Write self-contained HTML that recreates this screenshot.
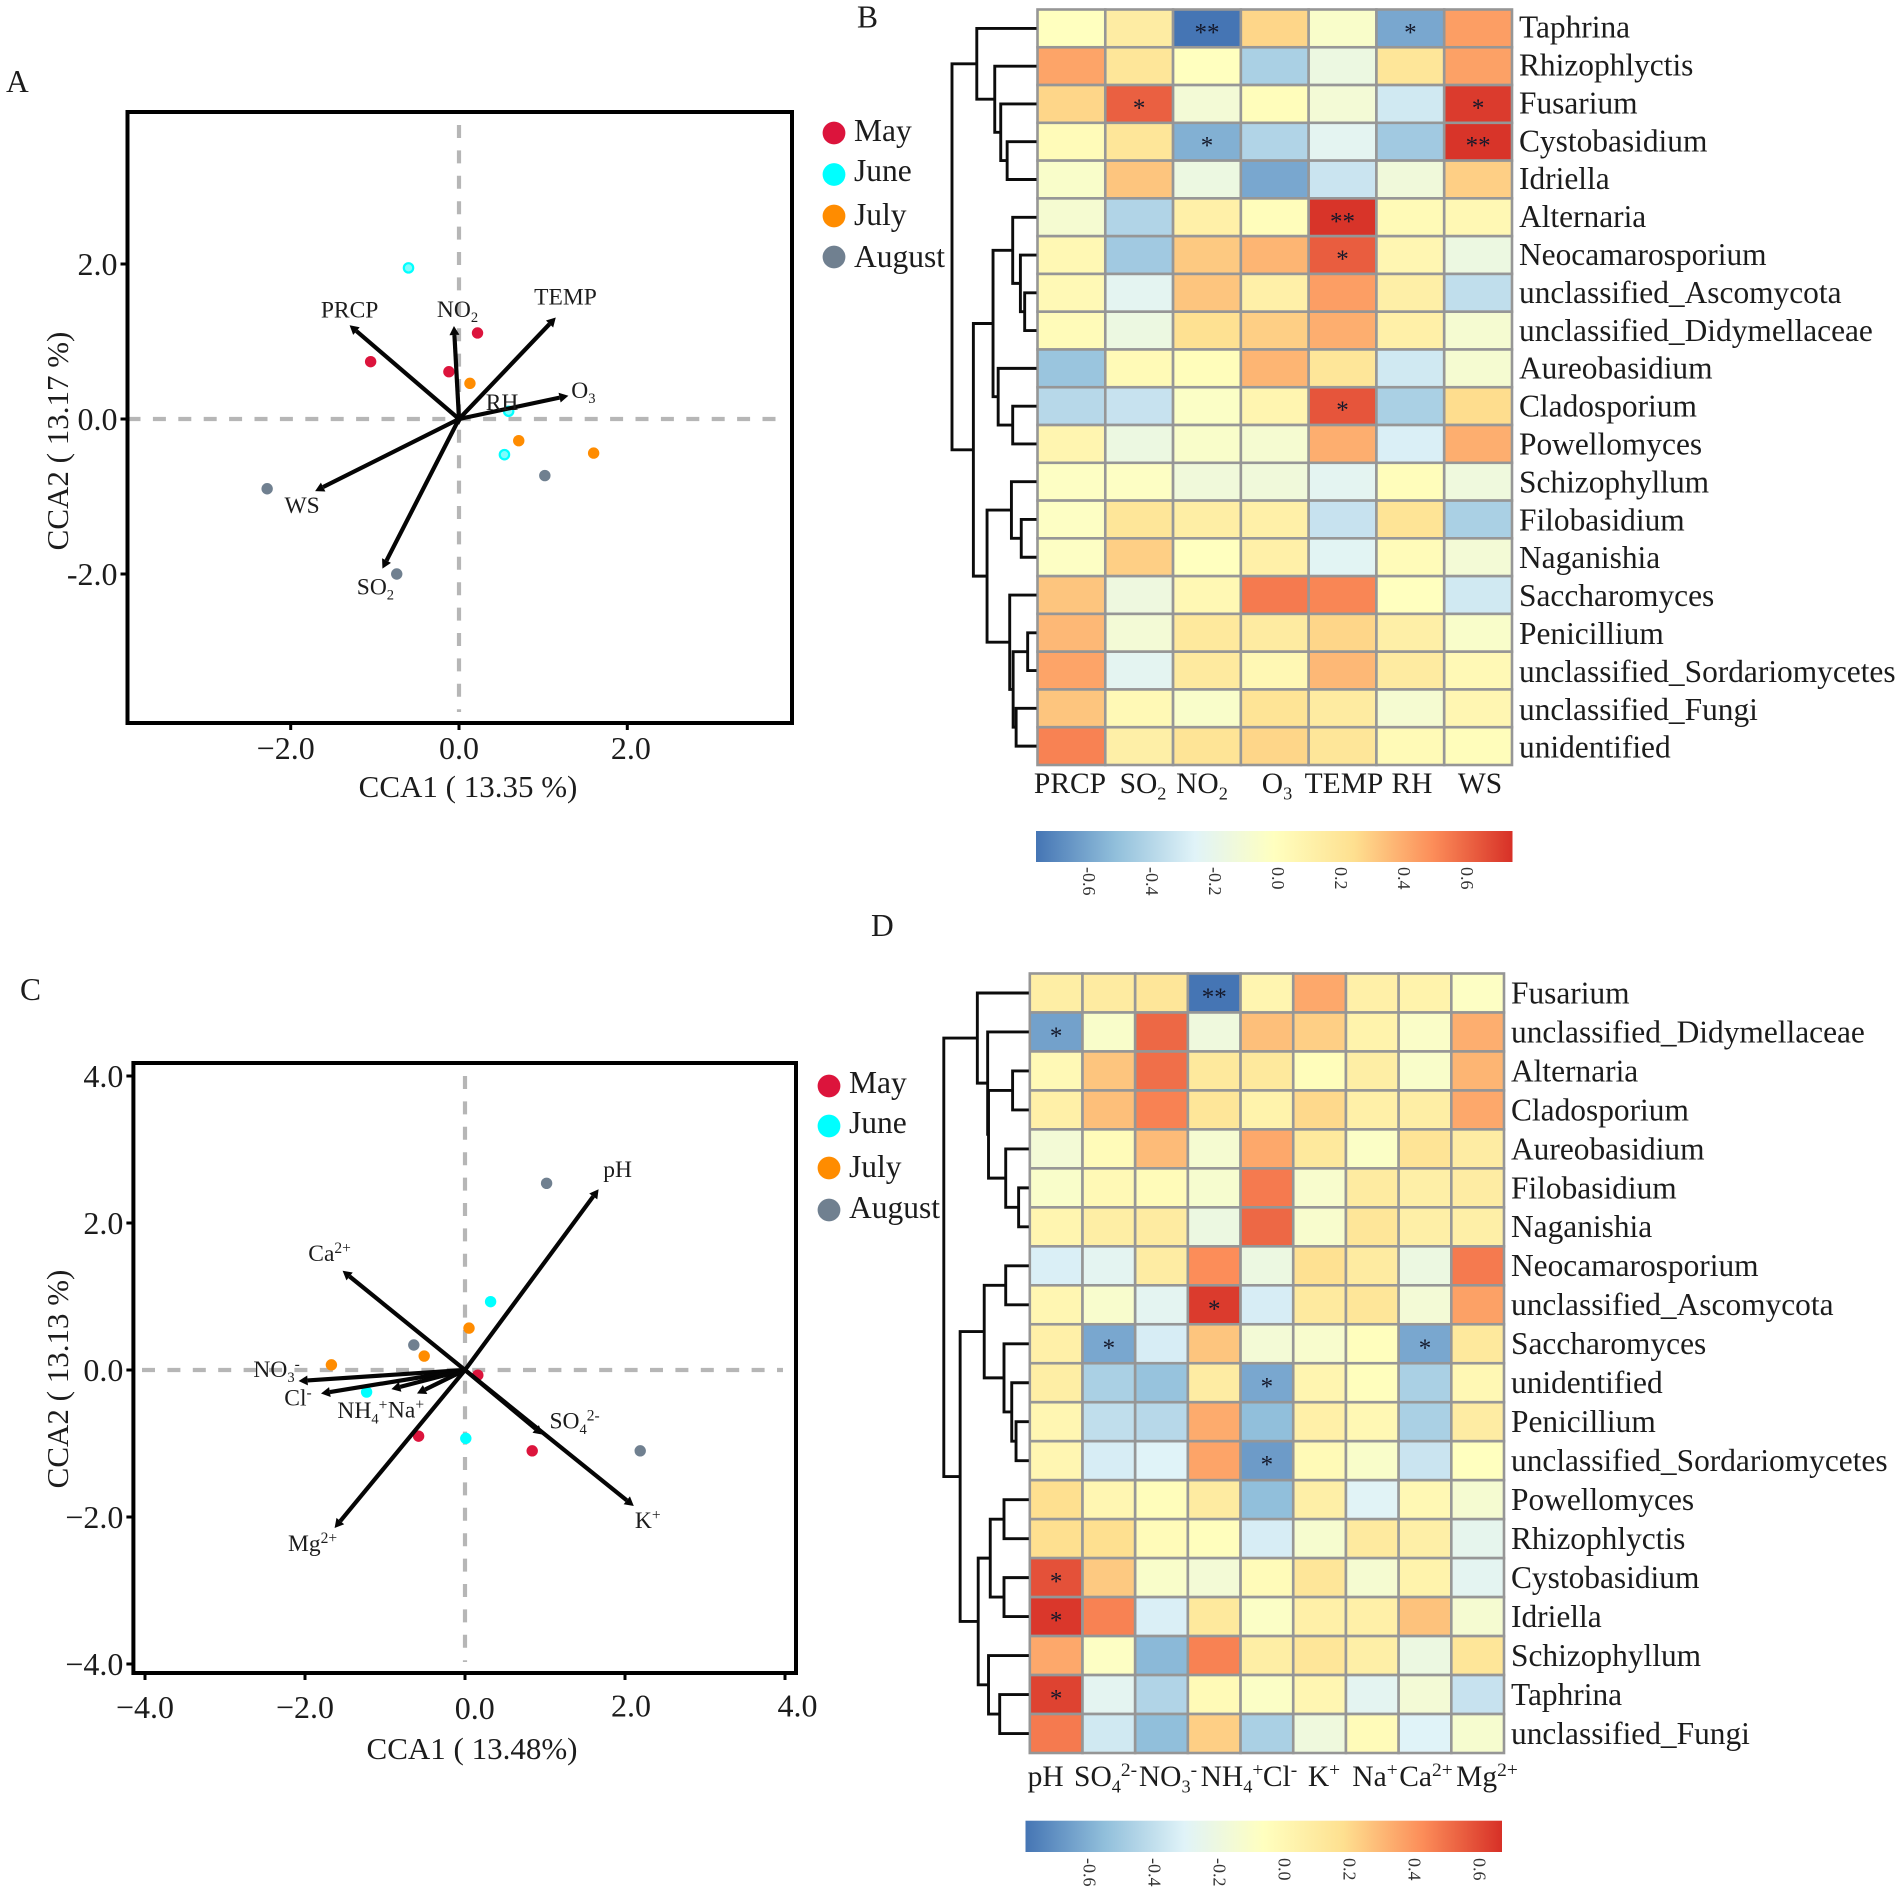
<!DOCTYPE html>
<html lang="en">
<head>
<meta charset="utf-8">
<title>CCA ordination and correlation heatmaps</title>
<style>
html,body{margin:0;padding:0;background:#fff;}
svg{display:block;font-family:"Liberation Serif","Times New Roman",serif;}
</style>
</head>
<body>
<svg id="fig" xmlns="http://www.w3.org/2000/svg" width="1902" height="1893" viewBox="0 0 1902 1893">
<defs>
<linearGradient id="rdylbu" x1="0" x2="1" y1="0" y2="0">
<stop offset="0" stop-color="#4575B4"/>
<stop offset="0.16667" stop-color="#91BFDB"/>
<stop offset="0.33333" stop-color="#E0F3F8"/>
<stop offset="0.5" stop-color="#FFFFBF"/>
<stop offset="0.66667" stop-color="#FEE090"/>
<stop offset="0.83333" stop-color="#FC8D59"/>
<stop offset="1" stop-color="#D73027"/>
</linearGradient>
</defs>
</svg>
<script>
// ---------- Legend ----------
const months = ["May", "June", "July", "August"];

// ---------- Panel A data ----------
const aPointX = [[0.22, -1.05, -0.12], [-0.6, 0.59, 0.54], [0.13, 0.71, 1.6], [-2.28, 1.02, -0.74]];
const aPointY = [[1.11, 0.74, 0.61], [1.95, 0.1, -0.46], [0.46, -0.28, -0.44], [-0.9, -0.73, -2.0]];
const aArrowNames = ["PRCP", "NO{2}", "TEMP", "O{3}", "RH", "WS", "SO{2}"];
const aArrowX = [-1.3, -0.06, 1.15, 1.3, 0.06, -1.71, -0.91];
const aArrowY = [1.21, 1.2, 1.31, 0.3, 0.04, -0.93, -1.93];
const aXTicks = [-2, 0, 2];
const aXTickLabels = ["\u22122.0", "0.0", "2.0"];
const aYTicks = [2, 0, -2];
const aYTickLabels = ["2.0", "0.0", "-2.0"];

// ---------- Panel C data ----------
const cPointX = [[0.16, -0.58, 0.84], [0.32, -1.23, 0.01], [0.05, -0.51, -1.67], [1.02, -0.64, 2.19]];
const cPointY = [[-0.07, -0.9, -1.1], [0.93, -0.3, -0.93], [0.57, 0.19, 0.07], [2.54, 0.34, -1.1]];
const cArrowNames = ["pH", "Ca[2+]", "NO{3}[-]", "Cl[-]", "NH{4}[+]", "Na[+]", "SO{4}[2-]", "K[+]", "Mg[2+]"];
const cArrowX = [1.67, -1.53, -2.08, -1.8, -0.92, -0.6, 0.97, 2.11, -1.63];
const cArrowY = [2.46, 1.35, -0.15, -0.32, -0.26, -0.32, -0.88, -1.85, -2.15];
const cXTicks = [-4, -2, 0, 2, 4];
const cXTickLabels = ["\u22124.0", "\u22122.0", "0.0", "2.0", "4.0"];
const cYTicks = [4, 2, 0, -2, -4];
const cYTickLabels = ["4.0", "2.0", "0.0", "\u22122.0", "\u22124.0"];

// ---------- Panel B data ----------
const bRows = ["Taphrina", "Rhizophlyctis", "Fusarium", "Cystobasidium", "Idriella", "Alternaria", "Neocamarosporium", "unclassified_Ascomycota", "unclassified_Didymellaceae", "Aureobasidium", "Cladosporium", "Powellomyces", "Schizophyllum", "Filobasidium", "Naganishia", "Saccharomyces", "Penicillium", "unclassified_Sordariomycetes", "unclassified_Fungi", "unidentified"];
const bCols = ["PRCP", "SO{2}", "NO{2}", "O{3}", "TEMP", "RH", "WS"];
const bValues = [
  [0.0, 0.15, -0.75, 0.28, -0.05, -0.58, 0.45],
  [0.43, 0.2, 0.0, -0.42, -0.15, 0.2, 0.44],
  [0.28, 0.62, -0.1, 0.02, -0.1, -0.3, 0.72],
  [0.03, 0.2, -0.55, -0.4, -0.22, -0.45, 0.74],
  [-0.05, 0.33, -0.15, -0.58, -0.32, -0.12, 0.3],
  [-0.08, -0.4, 0.12, 0.02, 0.74, 0.04, 0.06],
  [0.06, -0.45, 0.32, 0.38, 0.63, 0.07, -0.15],
  [0.05, -0.22, 0.33, 0.12, 0.45, 0.13, -0.35],
  [0.03, -0.15, 0.24, 0.3, 0.4, 0.12, -0.08],
  [-0.47, 0.04, 0.02, 0.38, 0.2, -0.3, -0.08],
  [-0.38, -0.33, -0.03, 0.08, 0.65, -0.42, 0.26],
  [0.08, -0.15, -0.05, -0.08, 0.4, -0.27, 0.4],
  [-0.02, -0.02, -0.12, -0.12, -0.22, 0.02, -0.13],
  [-0.02, 0.2, 0.14, 0.12, -0.33, 0.22, -0.42],
  [-0.02, 0.3, 0.0, 0.12, -0.23, 0.03, -0.1],
  [0.33, -0.14, 0.06, 0.55, 0.52, 0.0, -0.3],
  [0.37, -0.1, 0.18, 0.16, 0.28, 0.13, -0.05],
  [0.43, -0.22, 0.17, 0.06, 0.37, 0.16, 0.05],
  [0.33, 0.05, -0.05, 0.22, 0.16, -0.08, 0.07],
  [0.53, 0.13, 0.22, 0.28, 0.2, 0.04, 0.02]
];
const bStars = [[0, 2, "**"], [0, 5, "*"], [2, 1, "*"], [2, 6, "*"], [3, 2, "*"], [3, 6, "**"], [5, 4, "**"], [6, 4, "*"], [10, 4, "*"]];
const bTree = [1.0,
  [0.71, 0, [0.5, 1, [0.43, 2, [0.355, 3, 4]]]],
  [0.75,
    [0.52, [0.29, 5, [0.2, 6, [0.15, 7, 8]]], [0.46, 9, [0.29, 10, 11]]],
    [0.59, [0.305, 12, [0.19, 13, 14]], [0.325, 15, [0.285, [0.115, 16, 17], [0.25, 18, 19]]]]
  ]
];
const bBarTicks = [-0.6, -0.4, -0.2, 0, 0.2, 0.4, 0.6];

// ---------- Panel D data ----------
const dRows = ["Fusarium", "unclassified_Didymellaceae", "Alternaria", "Cladosporium", "Aureobasidium", "Filobasidium", "Naganishia", "Neocamarosporium", "unclassified_Ascomycota", "Saccharomyces", "unidentified", "Penicillium", "unclassified_Sordariomycetes", "Powellomyces", "Rhizophlyctis", "Cystobasidium", "Idriella", "Schizophyllum", "Taphrina", "unclassified_Fungi"];
const dCols = ["pH", "SO{4}[2-]", "NO{3}[-]", "NH{4}[+]", "Cl[-]", "K[+]", "Na[+]", "Ca[2+]", "Mg[2+]"];
const dValues = [
  [0.14, 0.16, 0.2, -0.75, 0.08, 0.42, 0.12, 0.1, -0.02],
  [-0.6, -0.05, 0.6, -0.13, 0.35, 0.3, 0.1, -0.04, 0.4],
  [0.05, 0.33, 0.58, 0.18, 0.18, 0.02, 0.14, -0.05, 0.38],
  [0.12, 0.35, 0.53, 0.2, 0.1, 0.27, 0.12, 0.14, 0.42],
  [-0.1, 0.03, 0.36, -0.08, 0.42, 0.18, -0.03, 0.22, 0.15],
  [-0.05, 0.05, 0.03, -0.07, 0.55, -0.06, 0.16, 0.13, 0.15],
  [0.08, 0.14, 0.16, -0.15, 0.6, -0.06, 0.2, 0.13, 0.13],
  [-0.27, -0.22, 0.15, 0.5, -0.15, 0.24, 0.16, -0.15, 0.55],
  [0.07, -0.06, -0.22, 0.72, -0.28, 0.17, 0.2, -0.1, 0.44],
  [0.12, -0.58, -0.28, 0.33, -0.1, -0.06, 0.01, -0.58, 0.18],
  [0.14, -0.42, -0.48, 0.15, -0.58, 0.08, 0.01, -0.42, 0.06],
  [0.07, -0.35, -0.38, 0.41, -0.5, 0.12, 0.06, -0.42, 0.15],
  [0.07, -0.28, -0.25, 0.43, -0.62, 0.04, -0.05, -0.32, 0.0],
  [0.25, 0.07, 0.02, 0.16, -0.5, 0.13, -0.24, 0.06, -0.08],
  [0.25, 0.25, 0.03, 0.01, -0.28, -0.07, 0.17, 0.13, -0.2],
  [0.66, 0.32, -0.05, -0.1, 0.03, 0.2, -0.08, 0.1, -0.22],
  [0.73, 0.53, -0.27, 0.18, -0.03, 0.12, 0.12, 0.34, -0.08],
  [0.42, -0.02, -0.52, 0.53, 0.14, 0.2, 0.13, -0.15, 0.2],
  [0.7, -0.22, -0.4, 0.04, -0.03, 0.07, -0.22, -0.1, -0.33],
  [0.55, -0.3, -0.5, 0.3, -0.42, -0.13, 0.03, -0.25, -0.07]
];
const dStars = [[0, 3, "**"], [1, 0, "*"], [8, 3, "*"], [9, 1, "*"], [9, 7, "*"], [10, 4, "*"], [12, 4, "*"], [15, 0, "*"], [16, 0, "*"], [18, 0, "*"]];
const dTree = [1.0,
  [0.61, 0, [0.49, 1, [0.48, [0.2, 2, 3], [0.28, 4, [0.13, 5, 6]]]]],
  [0.81,
    [0.53, [0.28, 7, 8], [0.3, 9, [0.21, 10, [0.16, 11, 12]]]],
    [0.6, [0.46, [0.3, 13, 14], [0.3, 15, 16]], [0.48, 17, [0.35, 18, 19]]]
  ]
];
const dBarTicks = [-0.6, -0.4, -0.2, 0, 0.2, 0.4, 0.6];

// ---------- Rendering ----------
const NS = "http://www.w3.org/2000/svg";
const fig = document.getElementById("fig");
const monthColors = ["#DC143C", "#00FFFF", "#FF8C00", "#708090"];
const ramp = [[69,117,180],[145,191,219],[224,243,248],[255,255,191],[254,224,144],[252,141,89],[215,48,39]];
const INK = "#1c1c1c";

function svgEl(tag, attrs, parent) {
  const el = document.createElementNS(NS, tag);
  for (const k in attrs) el.setAttribute(k, attrs[k]);
  (parent || fig).appendChild(el);
  return el;
}
function heatColor(v) {
  let t = (v + 0.75) / 1.5;
  t = Math.max(0, Math.min(1, t)) * 6;
  const i = Math.min(5, Math.floor(t));
  const f = t - i;
  const c = ramp[i].map((a, n) => Math.round(a + (ramp[i + 1][n] - a) * f));
  return "rgb(" + c.join(",") + ")";
}
// "SO{2}" = subscript, "K[+]" = superscript
function richText(el, str, size) {
  const parts = str.split(/(\{[^}]*\}|\[[^\]]*\])/).filter(s => s.length);
  let pending = 0;
  parts.forEach(p => {
    const ts = document.createElementNS(NS, "tspan");
    let dy = pending;
    pending = 0;
    if (p[0] === "{") {
      const d = size * 0.22;
      dy += d; pending = -d;
      ts.setAttribute("font-size", size * 0.62);
      p = p.slice(1, -1);
    } else if (p[0] === "[") {
      const d = -size * 0.34;
      dy += d; pending = -d;
      ts.setAttribute("font-size", size * 0.66);
      p = p.slice(1, -1);
    }
    if (dy) ts.setAttribute("dy", dy);
    ts.textContent = p;
    el.appendChild(ts);
  });
}
function label(str, x, y, size, anchor, parent) {
  const t = svgEl("text", {x: x, y: y, "font-size": size, "text-anchor": anchor || "start", fill: INK}, parent);
  richText(t, str, size);
  return t;
}
function slug(s) {
  return s.replace(/[{}\[\]+]/g, "").replace(/-/g, "").replace(/_/g, "-").toLowerCase();
}

function drawOrdination(cfg) {
  const g = svgEl("g", {});
  
  
  const sx = v => cfg.ox + v * cfg.ux;
  const sy = v => cfg.oy - v * cfg.uy;

  const h0 = svgEl("line", {x1: cfg.dashLeft, x2: cfg.dashRight, y1: cfg.oy, y2: cfg.oy, stroke: "#b6b6b6", "stroke-width": 4.2, "stroke-dasharray": "13 12.4", "stroke-dashoffset": cfg.dashOffset}, g);
  
  
  const v0 = svgEl("line", {x1: cfg.ox, x2: cfg.ox, y1: cfg.dashTop, y2: cfg.dashBottom, stroke: "#b6b6b6", "stroke-width": 4.2, "stroke-dasharray": "13 12.4"}, g);
  
  

  cfg.px.forEach((series, m) => {
    series.forEach((vx, i) => {
      const halo = cfg.juneHalo && m === 1;
      const c = svgEl("circle", {cx: sx(vx), cy: sy(cfg.py[m][i]), r: halo ? 4.7 : 5.7, fill: halo ? "#7ffcfc" : monthColors[m], stroke: halo ? "#00FFFF" : "none", "stroke-width": halo ? 2.2 : 0}, g);
      
      
    });
  });

  cfg.arrowNames.forEach((nm, i) => {
    const tx = sx(cfg.arrowX[i]), ty = sy(cfg.arrowY[i]);
    const ang = Math.atan2(ty - cfg.oy, tx - cfg.ox);
    const hl = 9, hw = 5;
    const bx = tx - Math.cos(ang) * hl, by = ty - Math.sin(ang) * hl;
    const ln = svgEl("line", {x1: cfg.ox, y1: cfg.oy, x2: bx, y2: by, stroke: "#050505", "stroke-width": 4.2}, g);
    
    
    const pts = [tx + "," + ty,
      (bx - Math.sin(ang) * hw) + "," + (by + Math.cos(ang) * hw),
      (bx + Math.sin(ang) * hw) + "," + (by - Math.cos(ang) * hw)].join(" ");
    const head = svgEl("polygon", {points: pts, fill: "#050505"}, g);
    
    
    const off = cfg.labelOffsets[i];
    const t = label(nm, tx + off[0], ty + off[1] + 8, 23.5, "middle", g);
    
    
  });

  const frame = svgEl("rect", {x: cfg.left, y: cfg.top, width: cfg.right - cfg.left, height: cfg.bottom - cfg.top, fill: "none", stroke: "#000", "stroke-width": 4}, g);
  
  

  cfg.xTicks.forEach((v, i) => {
    const tk = svgEl("line", {x1: sx(v), x2: sx(v), y1: cfg.bottom, y2: cfg.bottom + 7, stroke: "#000", "stroke-width": 3}, g);
    
    
    const t = label(cfg.xLabels[i], sx(v) + cfg.xLabelShift[i], cfg.xLabelY + cfg.xLabelLift[i], 32, "middle", g);
    
    
  });
  cfg.yTicks.forEach((v, i) => {
    const tk = svgEl("line", {x1: cfg.left - 7, x2: cfg.left, y1: sy(v), y2: sy(v), stroke: "#000", "stroke-width": 3}, g);
    
    
    const t = label(cfg.yLabels[i], cfg.left - 10, sy(v) + 11, 32, "end", g);
    
    
  });

  const xt = label(cfg.xTitle, cfg.xTitleX, cfg.xTitleY, 31, "middle", g);
  
  
  const yt = label(cfg.yTitle, 0, 0, 31, "middle", g);
  yt.setAttribute("transform", "translate(" + cfg.yTitleX + "," + cfg.yTitleY + ") rotate(-90)");
  
  

  months.forEach((m, i) => {
    const lg = svgEl("g", {}, g);
    
    
    svgEl("circle", {cx: cfg.legendX, cy: cfg.legendY[i], r: 11.4, fill: monthColors[i]}, lg);
    label(m, cfg.legendX + 20, cfg.legendBase[i], 31.5, "start", lg);
  });
}

function drawHeatmap(cfg) {
  const g = svgEl("g", {});
  
  
  const cw = (cfg.right - cfg.left) / cfg.cols.length;
  const ch = (cfg.bottom - cfg.top) / cfg.rows.length;

  cfg.values.forEach((row, r) => {
    row.forEach((v, c) => {
      const cell = svgEl("rect", {x: cfg.left + c * cw, y: cfg.top + r * ch, width: cw, height: ch, fill: heatColor(v), stroke: "#969696", "stroke-width": 2.6}, g);
      
      
    });
  });
  cfg.stars.forEach(s => {
    const t = svgEl("text", {x: cfg.left + (s[1] + 0.5) * cw, y: cfg.top + (s[0] + 0.5) * ch + 12, "font-size": 25, "text-anchor": "middle", fill: "#14182a"}, g);
    t.textContent = s[2];
    
    
  });
  cfg.rows.forEach((nm, r) => {
    const t = label(nm, cfg.right + 7, cfg.top + (r + 0.5) * ch + 10.4 + (r - 9.5) * cfg.labelDrift, 31.4, "start", g);
    
    
  });
  cfg.cols.forEach((nm, c) => {
    const t = label(nm, cfg.colCenters[c], cfg.colBase, cfg.colSize, "middle", g);
    
    
  });

  // dendrogram
  const dg = svgEl("g", {fill: "none", stroke: "#0c0c0c", "stroke-width": 2.9}, g);
  
  
  const nodeX = h => cfg.left - h * cfg.treeWidth;
  let d = "";
  function walk(node) {
    if (typeof node === "number") return {x: cfg.left - 1, y: cfg.top + (node + 0.5) * ch};
    const a = walk(node[1]), b = walk(node[2]);
    const x = nodeX(node[0]);
    d += "M" + a.x + " " + a.y + "H" + x + "V" + b.y + "H" + b.x;
    return {x: x, y: (a.y + b.y) / 2};
  }
  walk(cfg.tree);
  const path = svgEl("path", {d: d, "stroke-linejoin": "miter"}, dg);
  
  

  // colour bar
  const bar = svgEl("rect", {x: cfg.barLeft, y: cfg.barTop, width: cfg.barRight - cfg.barLeft, height: cfg.barBottom - cfg.barTop, fill: "url(#rdylbu)"}, g);
  
  
  cfg.barTicks.forEach(v => {
    const x = cfg.barZero + v * cfg.barScale;
    const t = svgEl("text", {"font-size": 18, "text-anchor": "start", fill: "#333", transform: "translate(" + (x - 6) + "," + cfg.barLabelY + ") rotate(90)"}, g);
    t.textContent = v.toFixed(1);
    
    
  });
}

function panelLetter(ch, x, y) {
  const t = label(ch, x, y, 31.5, "start");
  
  
}

drawOrdination({
  name: "panel-a-cca-climate", left: 127.5, right: 792, top: 112, bottom: 723,
  ox: 459, oy: 419, ux: 84.15, uy: 77.5, juneHalo: true,
  dashLeft: 129.5, dashRight: 778, dashOffset: 2, dashTop: 125, dashBottom: 712,
  px: aPointX, py: aPointY,
  arrowNames: aArrowNames, arrowX: aArrowX, arrowY: aArrowY,
  labelOffsets: [[0, -15.5], [3.6, -17], [9.7, -21], [15, -6], [38, -14], [-13, 14], [-7, 18]],
  xTicks: aXTicks, xLabels: aXTickLabels, xLabelShift: [-5, 0, 3.6], xLabelLift: [0, 0, 0],
  yTicks: aYTicks, yLabels: aYTickLabels, xLabelY: 759,
  xTitle: "CCA1 ( 13.35 %)", xTitleX: 468, xTitleY: 797,
  yTitle: "CCA2 ( 13.17 %)", yTitleX: 68, yTitleY: 441,
  legendX: 834, legendY: [133, 174.5, 216, 257], legendBase: [141, 181, 225, 267]
});
drawOrdination({
  name: "panel-c-cca-ions", left: 133.4, right: 796, top: 1063, bottom: 1673,
  ox: 465, oy: 1370, ux: 80, uy: 73.5, juneHalo: false,
  dashLeft: 142, dashRight: 783, dashOffset: 0, dashTop: 1076, dashBottom: 1662,
  px: cPointX, py: cPointY,
  arrowNames: cArrowNames, arrowX: cArrowX, arrowY: cArrowY,
  labelOffsets: [[19, -20], [-13, -18], [-22, -12], [-23, 4], [-29, 21], [-11, 16], [32, -14], [14, 14], [-22, 15]],
  xTicks: cXTicks, xLabels: cXTickLabels, xLabelShift: [0, 0, 9.7, 6, 12.5], xLabelLift: [0, 0, 1, -1.5, -1.5],
  yTicks: cYTicks, yLabels: cYTickLabels, xLabelY: 1718,
  xTitle: "CCA1 ( 13.48%)", xTitleX: 472, xTitleY: 1759,
  yTitle: "CCA2 ( 13.13 %)", yTitleX: 68, yTitleY: 1379,
  legendX: 829, legendY: [1086, 1126, 1168, 1210], legendBase: [1093, 1133, 1177, 1218]
});
drawHeatmap({
  name: "panel-b-heatmap-climate", left: 1037.5, right: 1512, top: 9.5, bottom: 765,
  rows: bRows, cols: bCols, values: bValues, stars: bStars, tree: bTree, treeWidth: 85.5, labelDrift: 0.12,
  colCenters: [1070, 1143, 1202, 1277, 1344, 1412, 1480], colBase: 793, colSize: 29.5,
  barLeft: 1036, barRight: 1512.5, barTop: 831, barBottom: 862,
  barZero: 1278, barScale: 315, barTicks: bBarTicks, barLabelY: 867
});
drawHeatmap({
  name: "panel-d-heatmap-ions", left: 1029.8, right: 1504, top: 973.5, bottom: 1753,
  rows: dRows, cols: dCols, values: dValues, stars: dStars, tree: dTree, treeWidth: 86, labelDrift: 0,
  colCenters: [1045.6, 1105.6, 1168, 1232, 1280, 1324, 1375, 1426, 1487], colBase: 1786, colSize: 29.5,
  barLeft: 1025.5, barRight: 1502, barTop: 1820.7, barBottom: 1852,
  barZero: 1284.5, barScale: 325, barTicks: dBarTicks, barLabelY: 1858
});
panelLetter("A", 6, 92);
panelLetter("B", 857, 27.5);
panelLetter("C", 20, 1000);
panelLetter("D", 871, 936);
</script>
</body>
</html>
